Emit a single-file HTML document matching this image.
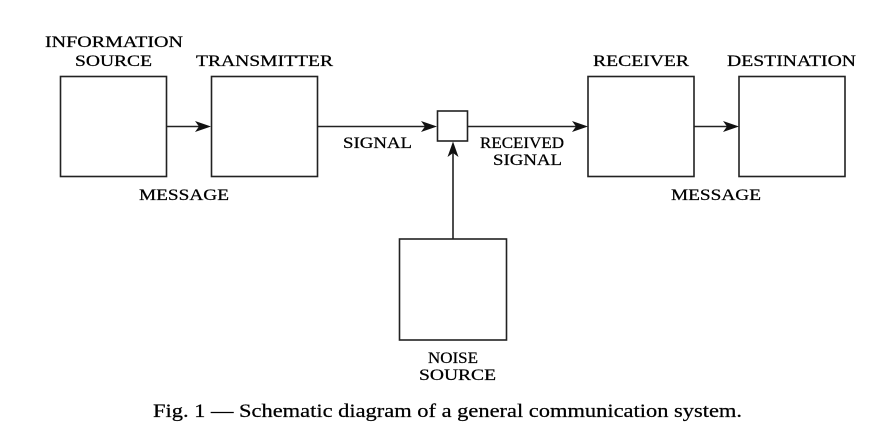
<!DOCTYPE html>
<html><head><meta charset="utf-8"><style>
html,body{margin:0;padding:0;background:#fff;}
svg{display:block;}
text{font-family:"Liberation Serif","DejaVu Serif",serif;fill:#000;}
.l{font-size:16px;}
</style></head><body>
<svg width="894" height="446" viewBox="0 0 894 446" xmlns="http://www.w3.org/2000/svg">
<g fill="none" stroke="#222" stroke-width="1.6">
<rect x="60.5" y="76.5" width="106" height="100"/>
<rect x="211.5" y="76.5" width="106" height="100"/>
<rect x="437.5" y="111" width="30" height="30"/>
<rect x="588" y="76.5" width="106" height="100"/>
<rect x="739" y="76.5" width="106" height="100"/>
<rect x="399.5" y="239" width="107" height="101"/>
<line x1="166.5" y1="126.5" x2="200" y2="126.5"/>
<line x1="317.5" y1="126.5" x2="427" y2="126.5"/>
<line x1="467.5" y1="126.5" x2="578" y2="126.5"/>
<line x1="694" y1="126.5" x2="729" y2="126.5"/>
<line x1="453" y1="239" x2="453" y2="152"/>
</g>
<g fill="#111">
<path d="M211,126.5 L195,121 L199,126.5 L195,132 Z"/>
<path d="M437,126.5 L421,121 L425,126.5 L421,132 Z"/>
<path d="M588,126.5 L572,121 L576,126.5 L572,132 Z"/>
<path d="M739,126.5 L723,121 L727,126.5 L723,132 Z"/>
<path d="M453,141.5 L447.5,157 L453,153 L458.5,157 Z"/>
</g>
<g stroke="#000" stroke-width="0.25">
<text class="l" x="45" y="47" textLength="138" lengthAdjust="spacingAndGlyphs">INFORMATION</text>
<text class="l" x="75" y="66" textLength="77" lengthAdjust="spacingAndGlyphs">SOURCE</text>
<text class="l" x="196" y="66" textLength="137" lengthAdjust="spacingAndGlyphs">TRANSMITTER</text>
<text class="l" x="343" y="148" textLength="69" lengthAdjust="spacingAndGlyphs">SIGNAL</text>
<text class="l" x="139" y="200" textLength="90" lengthAdjust="spacingAndGlyphs">MESSAGE</text>
<text class="l" x="480" y="148" textLength="84" lengthAdjust="spacingAndGlyphs">RECEIVED</text>
<text class="l" x="493" y="165" textLength="69" lengthAdjust="spacingAndGlyphs">SIGNAL</text>
<text class="l" x="593" y="66" textLength="96" lengthAdjust="spacingAndGlyphs">RECEIVER</text>
<text class="l" x="727" y="66" textLength="129" lengthAdjust="spacingAndGlyphs">DESTINATION</text>
<text class="l" x="671" y="200" textLength="90" lengthAdjust="spacingAndGlyphs">MESSAGE</text>
<text class="l" x="428" y="363" textLength="50" lengthAdjust="spacingAndGlyphs">NOISE</text>
<text class="l" x="419" y="380" textLength="77" lengthAdjust="spacingAndGlyphs">SOURCE</text>
<text x="153" y="417" font-size="19" textLength="589" lengthAdjust="spacingAndGlyphs">Fig. 1 — Schematic diagram of a general communication system.</text>
</g>
</svg>
</body></html>
